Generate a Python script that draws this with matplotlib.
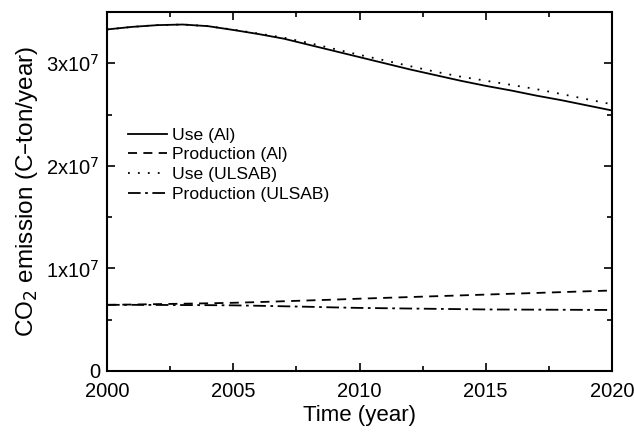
import matplotlib
matplotlib.use("Agg")
import matplotlib.pyplot as plt
from matplotlib.ticker import MultipleLocator, FixedLocator

plt.rcParams['font.family'] = ['Liberation Sans', 'DejaVu Sans']

years = list(range(2000, 2021))
use_al = [3.33, 3.355, 3.372, 3.378, 3.362, 3.325, 3.285, 3.24, 3.18, 3.12,
          3.06, 3.00, 2.94, 2.885, 2.83, 2.78, 2.735, 2.685, 2.64, 2.59, 2.54]
use_ulsab = [3.33, 3.355, 3.372, 3.378, 3.362, 3.328, 3.29, 3.25, 3.198, 3.14,
             3.082, 3.028, 2.972, 2.918, 2.87, 2.83, 2.79, 2.748, 2.70, 2.65, 2.60]
prod_al = [0.645, 0.648, 0.652, 0.656, 0.66, 0.665, 0.672, 0.68, 0.688, 0.696,
           0.705, 0.713, 0.721, 0.729, 0.737, 0.745, 0.753, 0.761, 0.769, 0.777, 0.785]
prod_ulsab = [0.645, 0.645, 0.644, 0.643, 0.642, 0.64, 0.636, 0.631, 0.626, 0.62,
              0.615, 0.612, 0.609, 0.606, 0.603, 0.60, 0.599, 0.598, 0.597, 0.596, 0.595]
series_labels = ["Use (Al)", "Production (Al)", "Use (ULSAB)", "Production (ULSAB)"]
ytick_vals = [0, 1e7, 2e7, 3e7]
ytick_labels = ["0", r"1x10$^7$", r"2x10$^7$", r"3x10$^7$"]

fig = plt.figure(figsize=(6.34, 4.37), dpi=100)
ax = fig.add_axes([107/634, 1 - 371/437, 505/634, 359/437])

scale = 1e7
lw = 1.3
ax.plot(years, [v * scale for v in use_al], color='black', lw=lw, ls='-', label=series_labels[0])
ax.plot(years, [v * scale for v in prod_al], color='black', lw=lw, ls=(0, (5, 3.5)), label=series_labels[1])
ax.plot(years, [v * scale for v in use_ulsab], color='black', lw=lw, ls=(0, (1, 4.5)), label=series_labels[2])
ax.plot(years, [v * scale for v in prod_ulsab], color='black', lw=lw, ls=(0, (7, 2.5, 1.5, 2.5)), label=series_labels[3])

ax.set_xlim(2000, 2020)
ax.set_ylim(0, 3.5e7)
ax.xaxis.set_major_locator(MultipleLocator(5))
ax.xaxis.set_minor_locator(MultipleLocator(2.5))
ax.yaxis.set_major_locator(FixedLocator(ytick_vals))
ax.yaxis.set_minor_locator(MultipleLocator(0.5e7))
ax.set_yticklabels(ytick_labels)
ax.tick_params(which='both', direction='in', top=True, right=True, width=1.2, labelsize=14.5)
ax.tick_params(axis='x', which='both', pad=8)
ax.tick_params(axis='y', which='both', pad=5)
ax.tick_params(which='major', length=6)
ax.tick_params(which='minor', length=3.5)
for s in ax.spines.values():
    s.set_linewidth(1.5)

ax.set_xlabel("Time (year)", fontsize=16, labelpad=3)
ax.set_ylabel(r"CO$_2$ emission (C–ton/year)", fontsize=17.5, labelpad=5)

leg = ax.legend(loc='upper left', bbox_to_anchor=(0.028, 0.698), frameon=False, fontsize=12.6,
                handlelength=2.23, handletextpad=0.3, labelspacing=0.26, borderaxespad=0)

fig.savefig("out.png", dpi=100)
